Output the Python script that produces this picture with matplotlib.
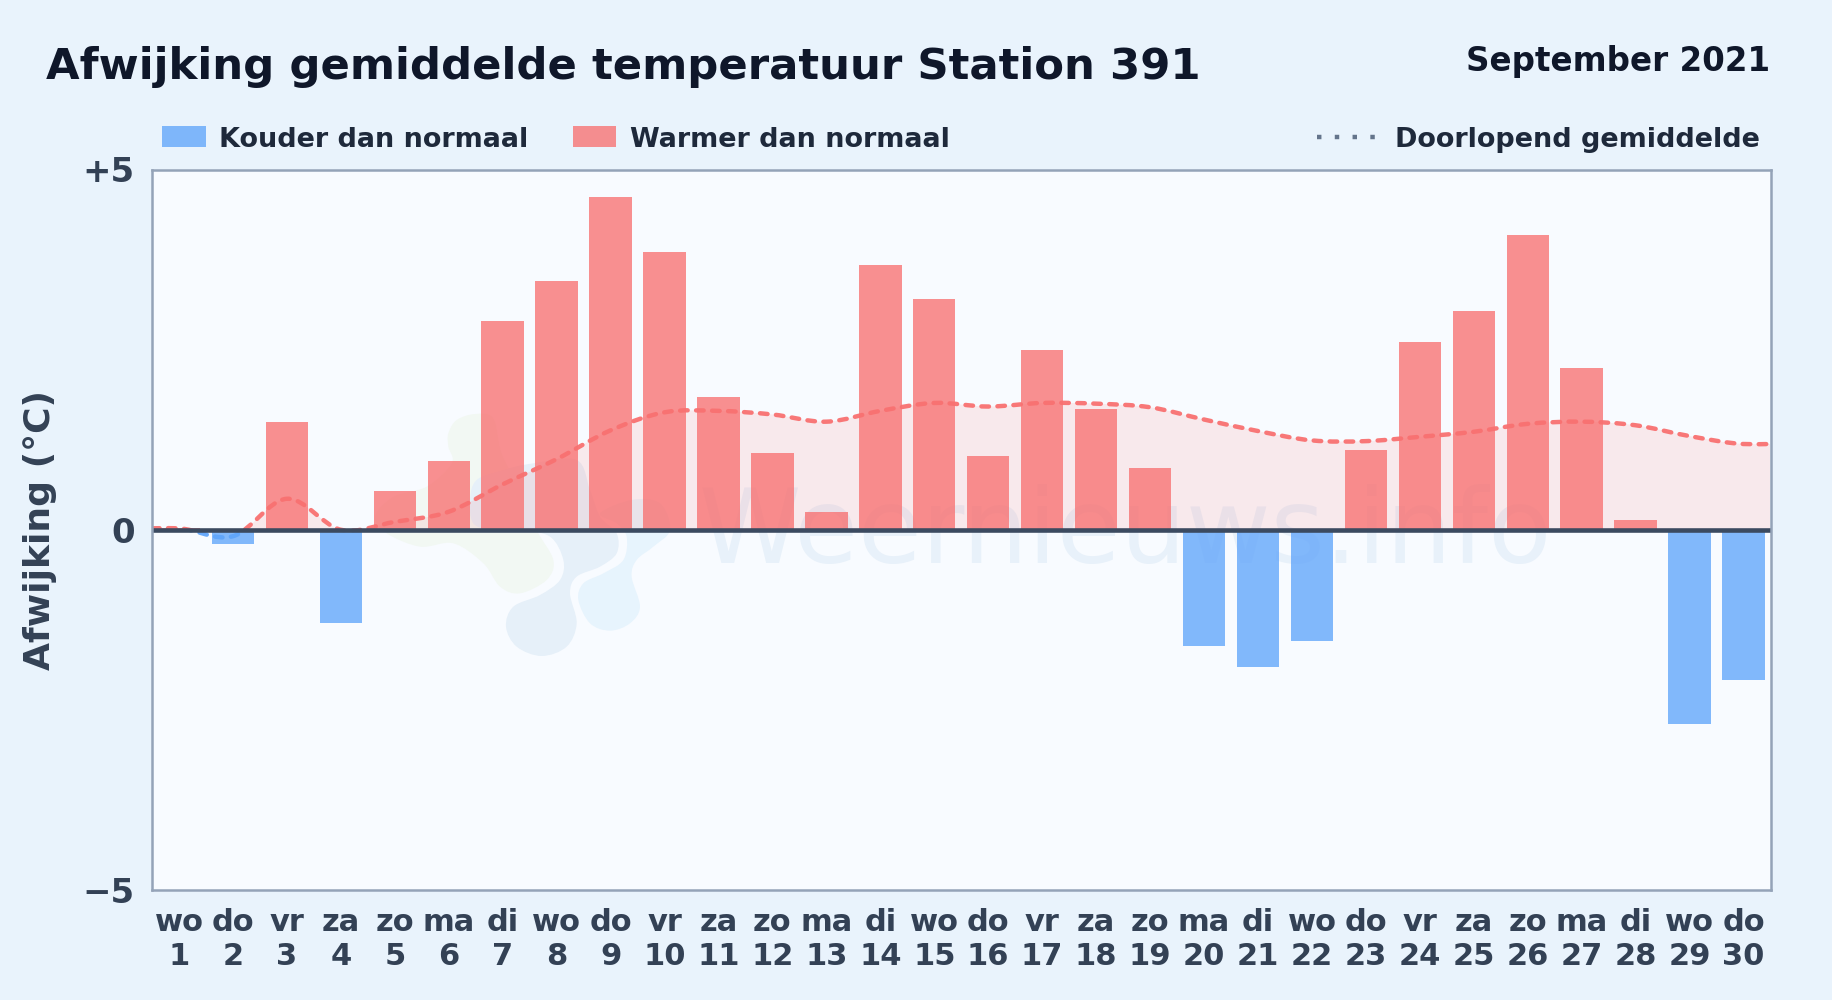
import numpy as np
import matplotlib
matplotlib.use("Agg")
import matplotlib.pyplot as plt
from matplotlib.path import Path
from matplotlib.patches import PathPatch, Rectangle
from matplotlib.lines import Line2D
from matplotlib.transforms import Affine2D

plt.rcParams['font.family'] = ['DejaVu Sans']

days = list(range(1, 31))
weekdays = ['wo','do','vr','za','zo','ma','di','wo','do','vr','za','zo','ma','di','wo',
            'do','vr','za','zo','ma','di','wo','do','vr','za','zo','ma','di','wo','do']
anomaly = [0.02,-0.20,1.50,-1.30,0.54,0.96,2.90,3.45,4.62,3.85,1.84,1.07,0.25,3.67,3.20,
           1.02,2.50,1.67,0.86,-1.62,-1.90,-1.55,1.10,2.60,3.03,4.09,2.25,0.14,-2.69,-2.09]
running = [0.02,-0.09,0.43,0.00,0.11,0.25,0.63,0.98,1.38,1.63,1.65,1.60,1.50,1.65,1.76,
           1.71,1.76,1.75,1.70,1.53,1.37,1.24,1.23,1.29,1.36,1.47,1.50,1.45,1.30,1.19]
title = 'Afwijking gemiddelde temperatuur Station 391'
period = 'September 2021'
legend_cold = 'Kouder dan normaal'
legend_warm = 'Warmer dan normaal'
legend_mean = 'Doorlopend gemiddelde'
ylabel = 'Afwijking (°C)'

# decorative logo outlines behind the chart (pixels relative to the logo's corner, at 3x)
logo_green = [(265,130),(290,90),(345,72),(400,85),(425,190),(480,300),(530,420),(580,510),(560,570),
              (480,610),(420,590),(370,520),(280,460),(180,470),(80,430),(45,380),(100,320),(200,290),
              (275,220),(265,170)]
logo_navy = [(330,330),(350,270),(430,240),(520,220),(650,210),(690,300),(720,380),(770,430),(770,490),
             (720,530),(650,560),(630,610),(650,700),(620,770),(545,798),(470,770),(438,710),(460,650),
             (540,615),(600,570),(610,510),(570,440),(480,420),(400,420),(340,400)]
logo_sky = [(720,370),(815,330),(900,340),(930,420),(880,470),(830,510),(815,560),(840,650),(810,700),
            (750,722),(690,700),(655,630),(670,580),(730,550),(790,510),(800,440),(770,400)]

W, H = 1832, 1000
BG = '#e9f3fc'
DARK = '#0f172a'
SLATE = '#334155'
RED = '#f87171'
BLUE = '#60a5fa'

fig = plt.figure(figsize=(W/100, H/100), dpi=100, facecolor=BG)
L, R, T, B = 152, 1770.5, 169.5, 890
ax = fig.add_axes([L/W, 1-B/H, (R-L)/W, (B-T)/H], facecolor='#f8fbff')
ax.set_xlim(0.5, 30.5)
ax.set_ylim(-5, 5)


def smooth_path(x, y):
    """Bezier path through the points, with Catmull-Rom style tangents."""
    x = np.asarray(x, float); y = np.asarray(y, float)
    m = np.gradient(y, x)
    verts = [(x[0], y[0])]; codes = [Path.MOVETO]
    for i in range(len(x)-1):
        h = x[i+1]-x[i]
        verts += [(x[i]+h/3, y[i]+m[i]*h/3), (x[i+1]-h/3, y[i+1]-m[i+1]*h/3), (x[i+1], y[i+1])]
        codes += [Path.CURVE4]*3
    return verts, codes


def blob(points, color):
    """Closed smooth outline through the points, placed in figure pixels."""
    p = np.asarray(points, float)
    n = len(p)
    verts = [tuple(p[0])]; codes = [Path.MOVETO]
    for i in range(n):
        p0, p1, p2, p3 = p[(i-1) % n], p[i], p[(i+1) % n], p[(i+2) % n]
        verts += [tuple(p1+(p2-p0)/6), tuple(p2-(p3-p1)/6), tuple(p2)]
        codes += [Path.CURVE4]*3
    patch = PathPatch(Path(verts, codes), facecolor=color, lw=0, zorder=1)
    ax.add_patch(patch)
    patch.set_transform(Affine2D().scale(1/3, -1/3).translate(360, H-390))


# the running line reaches the frame on both sides, level with its first / last value
lx = [0.5] + days + [30.5]
ly = [running[0]] + running + [running[-1]]
verts, codes = smooth_path(lx, ly)

# watermark
blob(logo_green, '#f2f8f3')
blob(logo_navy, '#e6f0f9')
blob(logo_sky, '#e7f4fd')
ax.text(18.55, -0.07, 'Weernieuws.info', fontsize=74.5, color='#e8f1fa',
        ha='center', va='center', zorder=1.5, fontweight='normal')

# running mean area
fv = verts + [(30.5, 0), (0.5, 0), (0.5, ly[0])]
fc = codes + [Path.LINETO]*3
above = Rectangle((0.5, 0), 30, 5, transform=ax.transData)
below = Rectangle((0.5, -5), 30, 5, transform=ax.transData)
area = PathPatch(Path(fv, fc), facecolor=RED, alpha=0.13, lw=0, zorder=2)
ax.add_patch(area); area.set_clip_path(above)

# bars
colors = [RED if v >= 0 else BLUE for v in anomaly]
ax.bar(days, anomaly, width=0.785, color=colors, alpha=0.78, lw=0, zorder=3)

# running mean line, red above and blue below zero
for col, clip in [(RED, above), (BLUE, below)]:
    ln = PathPatch(Path(verts, codes), fill=False, edgecolor=col, lw=3.2, alpha=0.95,
                   linestyle=(0, (1.7, 1.9)), capstyle='round', zorder=4)
    ax.add_patch(ln); ln.set_clip_path(clip)

ax.axhline(0, color='#3b4a60', lw=3.3, zorder=5)

for s in ax.spines.values():
    s.set_color('#94a3b8'); s.set_linewidth(1.8); s.set_zorder(6)

ax.set_xticks(days)
ax.set_xticklabels([f'{w}\n{d}' for w, d in zip(weekdays, days)], fontsize=22,
                   fontweight='bold', color=SLATE, linespacing=1.2)
ax.set_yticks([-5, 0, 5])
ax.set_yticklabels(['−5', '0', '+5'], fontsize=24.5, fontweight='bold', color=SLATE)
ax.tick_params(axis='x', length=0, pad=13)
ax.tick_params(axis='y', length=0, pad=12.5)
fig.text(40/W, 1-530/H, ylabel, rotation=90, fontsize=26, fontweight='bold', color=SLATE,
         ha='center', va='center')

fig.text(46/W, 1-63/H, title, fontsize=31.25, fontweight='bold', color=DARK, ha='left', va='center_baseline')
fig.text(1770.5/W, 1-58.5/H, period, fontsize=23.45, fontweight='bold', color=DARK, ha='right', va='center_baseline')

# legend
legend_y = 136.5
TXT = '#1e293b'
fig.add_artist(Rectangle((162/W, 1-(legend_y+10)/H), 44/W, 20/H, transform=fig.transFigure,
                         facecolor=BLUE, alpha=0.78, lw=0))
fig.text(219/W, 1-legend_y/H, legend_cold, fontsize=19.45, fontweight='bold', color=TXT, ha='left', va='center_baseline')
fig.add_artist(Rectangle((573/W, 1-(legend_y+10)/H), 43/W, 20/H, transform=fig.transFigure,
                         facecolor=RED, alpha=0.78, lw=0))
fig.text(630/W, 1-legend_y/H, legend_warm, fontsize=19.45, fontweight='bold', color=TXT, ha='left', va='center_baseline')
fig.add_artist(Line2D([1317/W, 1375/W], [1-legend_y/H]*2, transform=fig.transFigure, color='#64748b',
                      lw=3.2, linestyle=(0, (1.0, 3.0)), dash_capstyle='butt'))
fig.text(1395/W, 1-legend_y/H, legend_mean, fontsize=19.45, fontweight='bold', color=TXT, ha='left', va='center_baseline')

fig.savefig('out.png', dpi=100, facecolor=BG)
